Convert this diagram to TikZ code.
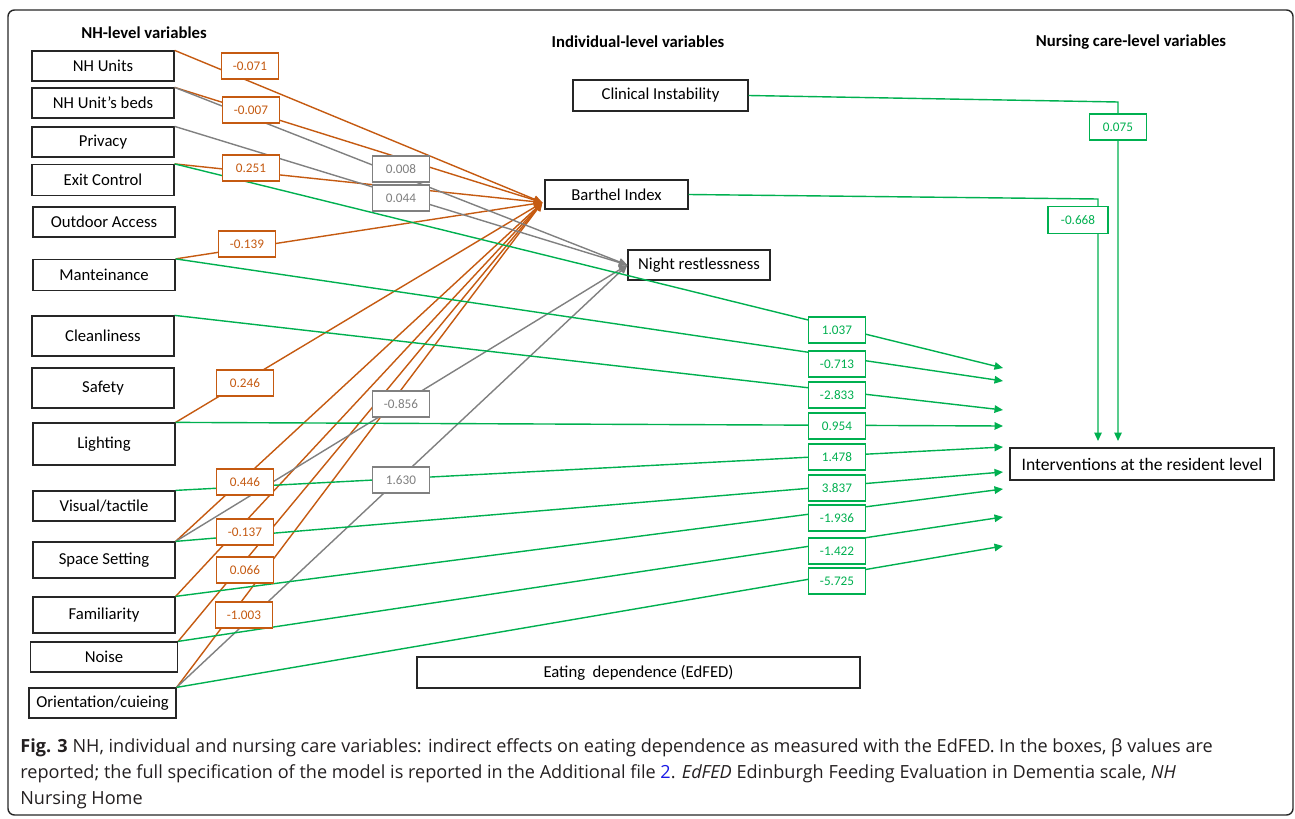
\documentclass[tikz,border=0pt]{standalone}
\usepackage{fontspec}
\setmainfont{Carlito}
\newfontfamily\capfont{Open Sans}
\usetikzlibrary{calc}
\usetikzlibrary{arrows.meta}
\definecolor{orl}{HTML}{C55A11}
\definecolor{grl}{HTML}{808080}
\definecolor{gnl}{HTML}{00B050}
\definecolor{capc}{HTML}{231F20}
\definecolor{lnk}{HTML}{1A1AE6}

\begin{document}
\begin{tikzpicture}[x=0.2mm, y=-0.2mm, >={Triangle[length=1.7mm, width=1.5mm]},
  var/.style={rectangle, draw=black!85, line width=0.7pt, minimum width=28.4mm, minimum height=6mm, inner sep=1pt, font=\fontsize{9.5}{11}\selectfont},
  title/.style={font=\bfseries\fontsize{9.5}{11}\selectfont},
  beta/.style={rectangle, draw, fill=white, line width=0.6pt, minimum width=11.4mm, minimum height=5.2mm, inner sep=1pt, font=\fontsize{7.5}{9}\selectfont},
  ob/.style={beta, draw=orl, text=orl},
  gb/.style={beta, draw=grl, text=grl},
  nb/.style={beta, draw=gnl, text=gnl},
  capline/.style={anchor=base west, inner sep=0pt, text=capc, font=\capfont\fontsize{10.3}{12}\selectfont}]
\useasboundingbox (0,0) rectangle (1295,818);
\draw[rounded corners=1.3mm, line width=0.8pt, black!85] (8,10) rectangle (1293,815);

% titles
\draw (144,33) node[title, name = nhtitle]{NH-level variables};
\draw (638,42) node[title, name = indtitle]{Individual-level variables};
\draw (1131,42) node[title, name = nctitle]{Nursing care-level variables};

% NH-level variables
\draw (103,66) node[var, name = nhunits]{NH Units};
\draw (nhunits) + (0,37) node[var, name = beds]{NH Unit's beds};
\draw (beds) + (0,39) node[var, name = privacy]{Privacy};
\draw (privacy) + (0,38) node[var, name = exitctl, minimum height=6.2mm]{Exit Control};
\draw (exitctl) + (1,42) node[var, name = outdoor]{Outdoor Access};
\draw (outdoor) + (0,53) node[var, name = mainten, minimum height=6.2mm]{Manteinance};
\draw (mainten) + (-1,61) node[var, name = clean, minimum height=8mm]{Cleanliness};
\draw (clean) + (0,52) node[var, name = safety, minimum height=8mm]{Safety};
\draw (safety) + (1,56) node[var, name = lighting, minimum height=8.4mm]{Lighting};
\draw (lighting) + (0,62) node[var, name = visual]{Visual/tactile};
\draw (visual) + (0,54) node[var, name = space, minimum height=7.2mm]{Space Setting};
\draw (space) + (0,55) node[var, name = famil, minimum height=7.2mm]{Familiarity};
\draw (famil) + (0,42) node[var, name = noise, minimum width=29.4mm]{Noise};
\draw (noise) + (-1.5,46) node[var, name = orient, minimum width=29.4mm]{Orientation/cuieing};

% individual and nursing care level
\draw (660.5,95.5) node[var, name = clinical, minimum width=35mm, minimum height=6.2mm]{Clinical Instability};
\draw (616.5,194.5) node[var, name = barthel, minimum width=28.6mm, minimum height=5.8mm]{Barthel Index};
\draw (699,265) node[var, name = night]{Night restlessness};
\draw (638.5,672.5) node[var, name = edfed, minimum width=88.6mm, minimum height=6.2mm]{Eating\ \ dependence (EdFED)};
\draw (1142,464) node[var, name = interv, minimum width=52.8mm, minimum height=6.4mm, font=\fontsize{10}{12}\selectfont]{Interventions at the resident level};

% arrow ends
\coordinate (bin) at ($(barthel.west)+(-2,8)$);
\coordinate (g1) at (1003,368);
\coordinate (g2) at (1003,381);
\coordinate (g3) at (1003,410);
\coordinate (g4) at (1003,426);
\coordinate (g5) at (1003,447);
\coordinate (g6) at (1003,472);
\coordinate (g7) at (1003,489);
\coordinate (g8) at (1003,517);
\coordinate (g9) at (1003,546);
\coordinate (ck) at (1118,102);
\coordinate (ctip) at (1118,441);
\coordinate (bk) at (1098,199);
\coordinate (btip) at (1098,441);

% effects on Barthel Index
\draw[->, orl, line width=0.8pt] (nhunits.north east) -- (bin);
\draw[->, orl, line width=0.8pt] (beds.north east) -- (bin);
\draw[->, orl, line width=0.8pt] (exitctl.north east) -- (bin);
\draw[->, orl, line width=0.8pt] (mainten.north east) -- (bin);
\draw[->, orl, line width=0.8pt] (lighting.north east) -- (bin);
\draw[->, orl, line width=0.8pt] (space.north east) -- (bin);
\draw[->, orl, line width=0.8pt] (famil.north east) -- (bin);
\draw[->, orl, line width=0.8pt] (noise.north east) -- (bin);
\draw[->, orl, line width=0.8pt] (orient.north east) -- (bin);

% effects on night restlessness
\draw[->, grl, line width=0.8pt] (beds.north east) -- (night.west);
\draw[->, grl, line width=0.8pt] (privacy.north east) -- (night.west);
\draw[->, grl, line width=0.8pt] (space.north east) -- (night.west);
\draw[->, grl, line width=0.8pt] (orient.north east) -- (night.west);

% effects on interventions
\draw[->, gnl, line width=0.8pt] (exitctl.north east) -- (g1);
\draw[->, gnl, line width=0.8pt] (mainten.north east) -- (g2);
\draw[->, gnl, line width=0.8pt] (clean.north east) -- (g3);
\draw[->, gnl, line width=0.8pt] (lighting.north east) -- (g4);
\draw[->, gnl, line width=0.8pt] (visual.north east) -- (g5);
\draw[->, gnl, line width=0.8pt] (space.north east) -- (g6);
\draw[->, gnl, line width=0.8pt] (famil.north east) -- (g7);
\draw[->, gnl, line width=0.8pt] (noise.north east) -- (g8);
\draw[->, gnl, line width=0.8pt] (orient.north east) -- (g9);
\draw[->, gnl, line width=0.8pt] (clinical.east) -- (ck) -- (ctip);
\draw[->, gnl, line width=0.8pt] (barthel.east) -- (bk) -- (btip);

% beta values
\draw (250,66) node[ob, name = b1]{-0.071};
\draw (251,110) node[ob, name = b2]{-0.007};
\draw (251,168) node[ob, name = b3]{0.251};
\draw (247,244) node[ob, name = b4]{-0.139};
\draw (245,383) node[ob, name = b5]{0.246};
\draw (245,482) node[ob, name = b6]{0.446};
\draw (245,532) node[ob, name = b7]{-0.137};
\draw (245,570) node[ob, name = b8]{0.066};
\draw (244,615) node[ob, name = b9]{-1.003};
\draw (401,169) node[gb, name = r1]{0.008};
\draw (401,198) node[gb, name = r2]{0.044};
\draw (401,404) node[gb, name = r3]{-0.856};
\draw (401,480) node[gb, name = r4]{1.630};
\draw (837,330) node[nb, name = n1]{1.037};
\draw (837,364) node[nb, name = n2]{-0.713};
\draw (837,395) node[nb, name = n3]{-2.833};
\draw (837,426) node[nb, name = n4]{0.954};
\draw (837,457) node[nb, name = n5]{1.478};
\draw (837,488) node[nb, name = n6]{3.837};
\draw (837,518) node[nb, name = n7]{-1.936};
\draw (837,551) node[nb, name = n8]{-1.422};
\draw (837,581) node[nb, name = n9]{-5.725};
\draw (1118,127) node[nb, name = n10]{0.075};
\draw (1078,220) node[nb, name = n11, minimum width=12mm, minimum height=5.4mm]{-0.668};

% caption
\draw (20,752) node[capline, name = cap1]{\textbf{Fig. 3} NH, individual and nursing care variables: indirect effects on eating dependence as measured with the EdFED. In the boxes, β values are};
\draw (cap1.base west) + (0,26) node[capline, name = cap2]{reported; the full specification of the model is reported in the Additional file \textcolor{lnk}{2}. \textit{EdFED} Edinburgh Feeding Evaluation in Dementia scale, \textit{NH}};
\draw (cap2.base west) + (0,26) node[capline, name = cap3]{Nursing Home};
\end{tikzpicture}
\end{document}
